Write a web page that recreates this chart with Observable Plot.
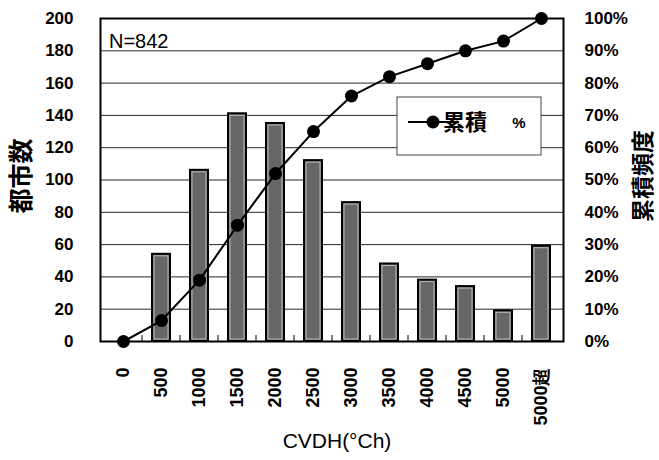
<!DOCTYPE html>
<html><head><meta charset="utf-8">
<script src="https://cdn.jsdelivr.net/npm/d3@7"></script>
<script src="https://cdn.jsdelivr.net/npm/@observablehq/plot@0.6"></script>
<style>
body{margin:0;background:#fff;}
#wrap{position:relative;width:659px;height:460px;font-family:"Liberation Sans",Arial,sans-serif;}
#wrap svg{display:block;}
</style></head><body><div id="wrap"></div>
<script>
const categories = ["0","500","1000","1500","2000","2500","3000","3500","4000","4500","5000","5000超"];
const counts = [null,54,106,141,135,112,86,48,38,34,19,59];
const cumPct = [0,6.5,19,36,52,65,76,82,86,90,93,100];
const leftTicks = [0,20,40,60,80,100,120,140,160,180,200];
const rightTickLabels = ["0%","10%","20%","30%","40%","50%","60%","70%","80%","90%","100%"];
const leftTitle = "都市数";
const rightTitle = "累積頻度";
const xTitle = "CVDH(°Ch)";
const nLabel = "N=842";
const legendLabel = "累積";
const legendUnit = "%";

const data = categories.map((c,i)=>({cat:c, count:counts[i], pct:cumPct[i]}));
const barData = data.filter(d => d.count != null);
const pctToLeft = 200/100;

const plot = Plot.plot({
  width: 659, height: 460,
  marginLeft: 100, marginRight: 96, marginTop: 18, marginBottom: 119,
  style: {fontFamily: '"Liberation Sans", Arial, sans-serif', fontSize: "17px", fontWeight: "bold", color: "#000", background: "#fff"},
  x: {type: "band", domain: categories, padding: 0},
  y: {domain: [0, 200]},
  marks: [
    Plot.gridY(leftTicks, {stroke: "#000", strokeOpacity: 0.85, strokeWidth: 1}),
    Plot.barY(barData, {x: "cat", y: "count", fill: "#666", stroke: "#000", strokeWidth: 2, insetLeft: 10, insetRight: 10}),
    Plot.barY(barData, {x: "cat", y: "count", fill: "none", stroke: "#fff", strokeOpacity: 0.55, strokeWidth: 1, insetLeft: 12, insetRight: 12, insetTop: 2, insetBottom: 2}),
    Plot.line(data, {x: "cat", y: d => d.pct * pctToLeft, stroke: "#000", strokeWidth: 2}),
    Plot.dot(data, {x: "cat", y: d => d.pct * pctToLeft, r: 6.5, fill: "#000"}),
    Plot.frame({stroke: "#000", strokeWidth: 2}),
    Plot.axisY(leftTicks, {anchor: "left", tickSize: 0, tickPadding: 27, label: null}),
    Plot.axisY(leftTicks, {anchor: "right", tickSize: 0, tickPadding: 21, label: null, textAnchor: "start",
      tickFormat: d => rightTickLabels[leftTicks.indexOf(d)]}),
    Plot.axisX(categories, {anchor: "bottom", tickSize: 0, tickPadding: 26, tickRotate: -90, label: null, fontSize: 18})
  ]
});

document.getElementById("wrap").appendChild(plot);

const svg = d3.select(plot);
const xs = plot.scale("x"), ys = plot.scale("y");
const y0 = ys.apply(0);
// inner boundary ticks along bottom
for (let i = 1; i < categories.length; i++) {
  const xb = xs.apply(categories[i]);
  svg.append("line").attr("x1", xb).attr("x2", xb).attr("y1", y0).attr("y2", y0 - 6)
    .attr("stroke", "#000").attr("stroke-width", 1);
}
// titles
svg.append("text").attr("transform", `translate(30,176) rotate(-90)`).attr("text-anchor", "middle")
  .attr("font-family", '"Noto Sans CJK JP", sans-serif').attr("font-weight", "bold").attr("font-size", 25).text(leftTitle);
svg.append("text").attr("transform", `translate(651,176) rotate(-90)`).attr("text-anchor", "middle")
  .attr("font-family", '"Noto Sans CJK JP", sans-serif').attr("font-weight", "bold").attr("font-size", 23).text(rightTitle);
svg.append("text").attr("x", 337).attr("y", 448).attr("text-anchor", "middle")
  .attr("font-weight", "normal").attr("font-size", 21).text(xTitle);
svg.append("text").attr("x", 109).attr("y", 48).attr("text-anchor", "start")
  .attr("font-weight", "normal").attr("font-size", 20).text(nLabel);
// legend
const lg = svg.append("g");
lg.append("rect").attr("x", 397).attr("y", 97).attr("width", 144).attr("height", 58)
  .attr("fill", "#fff").attr("stroke", "#444").attr("stroke-width", 1);
lg.append("line").attr("x1", 408).attr("x2", 459).attr("y1", 122).attr("y2", 122).attr("stroke", "#000").attr("stroke-width", 2);
lg.append("circle").attr("cx", 433).attr("cy", 122).attr("r", 6.5).attr("fill", "#000");
lg.append("text").attr("x", 465).attr("y", 130).attr("font-family", '"Noto Sans CJK JP", sans-serif')
  .attr("font-weight", "bold").attr("font-size", 22).text(legendLabel);
lg.append("text").attr("x", 519).attr("y", 128).attr("font-weight", "bold").attr("font-size", 15).text(legendUnit);
</script></body></html>
